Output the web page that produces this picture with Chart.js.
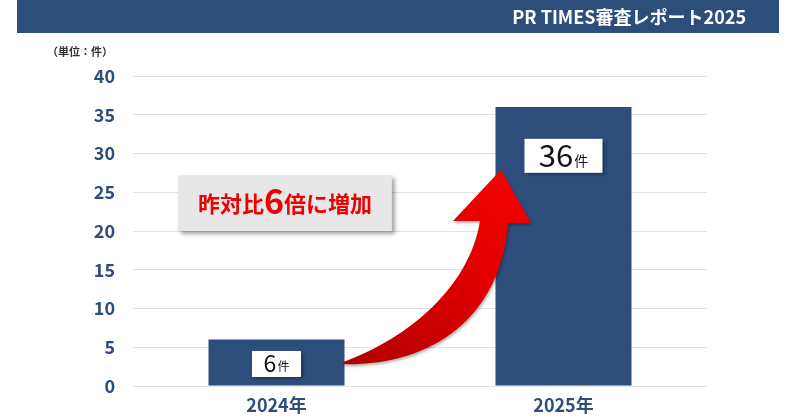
<!DOCTYPE html>
<html>
<head>
<meta charset="utf-8">
<script src="https://cdn.jsdelivr.net/npm/chart.js@4"></script>
<style>
  html, body { margin: 0; padding: 0; background: #fff; }
  canvas { display: block; }
</style>
</head>
<body>
<canvas id="myChart" width="800" height="419"></canvas>
<script>
'use strict';

const years = ['2024年', '2025年'];
const counts = [6, 36];
const countLabels = ['6', '36'];
const yTicks = [0, 5, 10, 15, 20, 25, 30, 35, 40];

const navy = '#2d4d7b';
const jpFont = '"Noto Sans CJK JP", "Noto Sans", sans-serif';

const progressChart = document.getElementById('myChart');

// points of the curved arrow, as [category index, value]
const arrowPath = {
  start: [0.232, 2.8],
  outerC1: [0.535, 2.6], outerC2: [0.779, 8.5], outerEnd: [0.807, 21.0],
  headRight: [0.887, 21.0], tip: [0.782, 27.9], headLeft: [0.615, 21.3],
  innerStart: [0.709, 21.3], innerC1: [0.674, 13.0], innerC2: [0.465, 6.2],
  end: [0.232, 3.1]
};

function shadowBox(ctx, x, y, w, h, fill, blur, off) {
  ctx.save();
  ctx.shadowColor = 'rgba(0,0,0,0.35)';
  ctx.shadowBlur = blur;
  ctx.shadowOffsetX = off;
  ctx.shadowOffsetY = off;
  ctx.fillStyle = fill;
  ctx.fillRect(x, y, w, h);
  ctx.restore();
}

const decorations = {
  id: 'decorations',
  beforeDraw(chart) {
    const ctx = chart.ctx;
    ctx.save();
    ctx.fillStyle = '#fff';
    ctx.fillRect(0, 0, chart.width, chart.height);
    // header band
    ctx.fillStyle = navy;
    ctx.fillRect(17, 0, 762, 33);
    ctx.fillStyle = '#fff';
    ctx.font = 'bold 18px ' + jpFont;
    ctx.textAlign = 'right';
    ctx.textBaseline = 'middle';
    ctx.fillText('PR TIMES審査レポート2025', 746, 17);
    // unit
    ctx.fillStyle = '#333';
    ctx.font = 'bold 11px ' + jpFont;
    ctx.fillText('（単位：件）', 113, 52);
    ctx.restore();
  },
  afterDatasetsDraw(chart) {
    const ctx = chart.ctx;
    const xs = chart.scales.x;
    const ys = chart.scales.y;
    const p = k => [xs.getPixelForValue(arrowPath[k][0]), ys.getPixelForValue(arrowPath[k][1])];

    // curved red arrow
    const s = p('start'), tip = p('tip');
    ctx.save();
    const grad = ctx.createLinearGradient(s[0], s[1], tip[0], tip[1]);
    grad.addColorStop(0, '#b00000');
    grad.addColorStop(0.55, '#dd0000');
    grad.addColorStop(1, '#f50000');
    ctx.fillStyle = grad;
    ctx.shadowColor = 'rgba(0,0,0,0.3)';
    ctx.shadowBlur = 3;
    ctx.shadowOffsetX = 1;
    ctx.shadowOffsetY = 2;
    ctx.beginPath();
    ctx.moveTo(...s);
    ctx.bezierCurveTo(...p('outerC1'), ...p('outerC2'), ...p('outerEnd'));
    ctx.lineTo(...p('headRight'));
    ctx.lineTo(...tip);
    ctx.lineTo(...p('headLeft'));
    ctx.lineTo(...p('innerStart'));
    ctx.bezierCurveTo(...p('innerC1'), ...p('innerC2'), ...p('end'));
    ctx.closePath();
    ctx.fill();
    ctx.restore();

    // value boxes on the bars
    const meta = chart.getDatasetMeta(0);
    const boxes = [
      { w: 49, h: 26, at: 2.84, num: 23, unit: 12 },
      { w: 78, h: 34, at: 29.7, num: 31, unit: 14 }
    ];
    meta.data.forEach((bar, i) => {
      const b = boxes[i];
      const cy = ys.getPixelForValue(b.at);
      shadowBox(ctx, bar.x - b.w / 2, cy - b.h / 2, b.w, b.h, '#fff', 3, 2);
      ctx.save();
      ctx.fillStyle = '#111';
      ctx.textBaseline = 'alphabetic';
      ctx.font = b.num + 'px ' + jpFont;
      const nw = ctx.measureText(countLabels[i]).width;
      ctx.font = b.unit + 'px ' + jpFont;
      const uw = ctx.measureText('件').width;
      const x0 = bar.x - (nw + uw + 1) / 2;
      const base = cy + b.num * 0.36;
      ctx.font = b.num + 'px ' + jpFont;
      ctx.fillText(countLabels[i], x0, base);
      ctx.font = b.unit + 'px ' + jpFont;
      ctx.fillText('件', x0 + nw + 1, base - 1);
      ctx.restore();
    });

    // comparison note
    const bx = xs.getPixelForValue(-0.343), bx2 = xs.getPixelForValue(0.402);
    const by = ys.getPixelForValue(27.2), by2 = ys.getPixelForValue(20.0);
    shadowBox(ctx, bx, by, bx2 - bx, by2 - by, '#e7e7e7', 4, 3);
    ctx.save();
    ctx.fillStyle = '#ee0000';
    ctx.textBaseline = 'alphabetic';
    const parts = [['昨対比', 'bold 22px '], ['6', 'bold 34px '], ['倍に増加', 'bold 22px ']];
    let total = 0;
    parts.forEach(pt => { ctx.font = pt[1] + jpFont; total += ctx.measureText(pt[0]).width; });
    let tx = (bx + bx2) / 2 - total / 2;
    const tBase = (by + by2) / 2 + 9;
    parts.forEach(pt => {
      ctx.font = pt[1] + jpFont;
      ctx.fillText(pt[0], tx, pt[0] === '6' ? tBase + 2 : tBase);
      tx += ctx.measureText(pt[0]).width;
    });
    ctx.restore();
  }
};

function drawChart() {
  return new Chart(progressChart, {
    type: 'bar',
    data: {
      labels: years,
      datasets: [{
        label: '件数',
        data: counts,
        backgroundColor: navy,
        borderWidth: 0,
        categoryPercentage: 1,
        barPercentage: 0.474
      }]
    },
    options: {
      responsive: false,
      animation: false,
      layout: { padding: { top: 76, right: 93, left: 0, bottom: 0 } },
      plugins: {
        legend: { display: false },
        tooltip: { enabled: false }
      },
      scales: {
        x: {
          grid: { display: false, drawTicks: false },
          border: { display: false },
          ticks: { color: navy, font: { family: jpFont, size: 18, weight: 'bold' }, padding: 8 },
          afterFit: scale => { scale.height = 33; }
        },
        y: {
          min: 0,
          max: 40,
          afterBuildTicks: scale => { scale.ticks = yTicks.map(v => ({ value: v })); },
          grid: { color: '#e2e2e2', lineWidth: 1, drawTicks: false },
          border: { display: false },
          ticks: { color: navy, font: { family: jpFont, size: 18, weight: 'bold' }, padding: 18 },
          afterFit: scale => { scale.width = 133; }
        }
      }
    },
    plugins: [decorations]
  });
}

drawChart();
</script>
</body>
</html>
